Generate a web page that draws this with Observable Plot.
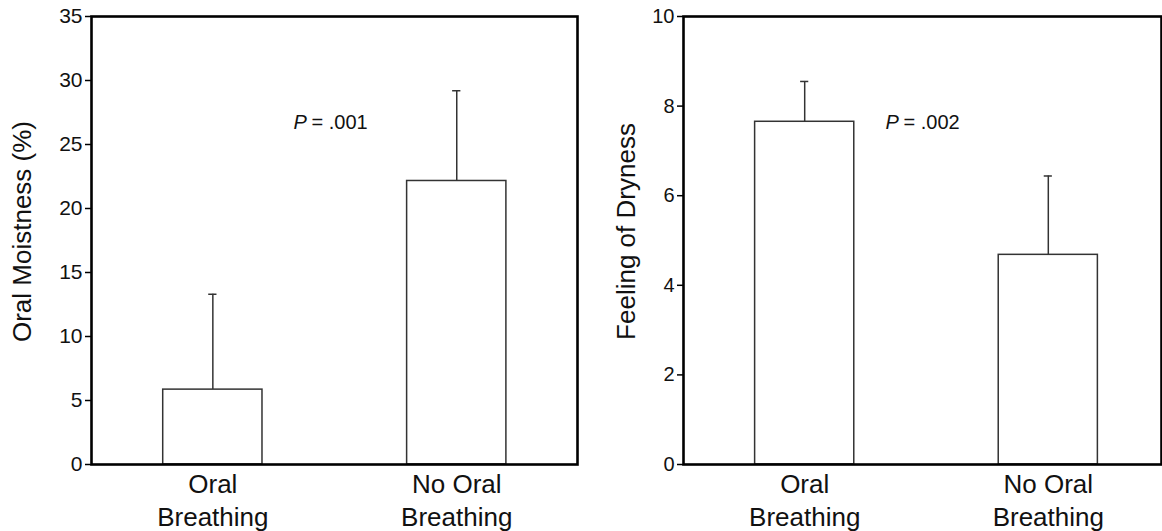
<!DOCTYPE html>
<html><head><meta charset="utf-8">
<script src="https://cdn.jsdelivr.net/npm/d3@7"></script>
<script src="https://cdn.jsdelivr.net/npm/@observablehq/plot@0.6"></script>
<style>
body{margin:0;background:#fff;}
#wrap{display:flex;width:1162px;height:531px;overflow:hidden;}
#wrap svg{font-family:"Liberation Sans",Arial,sans-serif;color:#111;background:#fff;flex:none;}
</style></head><body><div id="wrap"></div>
<script>
const categories = ["Oral\nBreathing", "No Oral\nBreathing"];
const moistureMean = [5.85, 22.15];
const moistureSD = [7.45, 7.05];
const drynessMean = [7.65, 4.68];
const drynessSD = [0.9, 1.76];
const moistureTicks = [0, 5, 10, 15, 20, 25, 30, 35];
const drynessTicks = [0, 2, 4, 6, 8, 10];
const moistureTitle = "Oral Moistness (%)";
const drynessTitle = "Feeling of Dryness";
const moistureP = ".001";
const drynessP = ".002";

function panel(o) {
  const data = categories.map((c, i) => ({cat: c, mean: o.mean[i], sd: o.sd[i]}));
  const svg = Plot.plot({
    width: o.width, height: 531,
    marginLeft: o.marginLeft, marginRight: o.marginRight, marginTop: 16, marginBottom: 67,
    style: {fontFamily: '"Liberation Sans", Arial, sans-serif', color: "#111", background: "#fff"},
    x: {type: "band", domain: categories, range: o.xRange, paddingInner: 0.593, paddingOuter: 0.294, round: false},
    y: {domain: [0, o.ticks[o.ticks.length - 1]]},
    marks: [
      Plot.barY(data, {x: "cat", y: "mean", fill: "white", stroke: "#333", strokeWidth: 1.5}),
      Plot.ruleX(data, {x: "cat", y1: "mean", y2: d => d.mean + d.sd, stroke: "#333", strokeWidth: 1.5}),
      Plot.tickY(data, {x: "cat", y: d => d.mean + d.sd, stroke: "#333", strokeWidth: 1.5, insetLeft: 45.5, insetRight: 45.5}),
      Plot.frame({stroke: "#000", strokeWidth: 2.6}),
      Plot.axisY({ticks: o.ticks, tickSize: 6, tickPadding: 3, label: null, stroke: "#000", strokeWidth: 1.5}),
      Plot.axisX({tickSize: 0, tickPadding: 4, fontSize: 26, lineHeight: 1.3, label: null}),
      Plot.text([o.title], {text: d => d, frameAnchor: "left", textAnchor: "middle", lineAnchor: "middle", rotate: -90, dx: o.titleDx, dy: -9, fontSize: 26}),
      Plot.text(["P"], {text: d => d, frameAnchor: "top-left", dx: 202, dy: 98, fontSize: 20, fontStyle: "italic", textAnchor: "start"}),
      Plot.text([o.p], {text: d => "= " + d, frameAnchor: "top-left", dx: 220, dy: 98, fontSize: 20, textAnchor: "start"})
    ]
  });
  const tickSet = new Set(o.ticks.map(String));
  d3.select(svg).selectAll("text").each(function () {
    if (tickSet.has(this.textContent.trim())) {
      this.style.fontSize = o.tickFont + "px";
      this.setAttribute("font-size", o.tickFont);
    }
  });
  return svg;
}

const wrap = document.getElementById("wrap");
wrap.append(panel({mean: moistureMean, sd: moistureSD, ticks: moistureTicks, title: moistureTitle, p: moistureP,
  width: 580, marginLeft: 91, marginRight: 3, xRange: [91, 577.6], tickFont: 21, titleDx: -69}));
wrap.append(panel({mean: drynessMean, sd: drynessSD, ticks: drynessTicks, title: drynessTitle, p: drynessP,
  width: 582, marginLeft: 103, marginRight: 1, xRange: [103, 589], tickFont: 20, titleDx: -57}));
</script></body></html>
